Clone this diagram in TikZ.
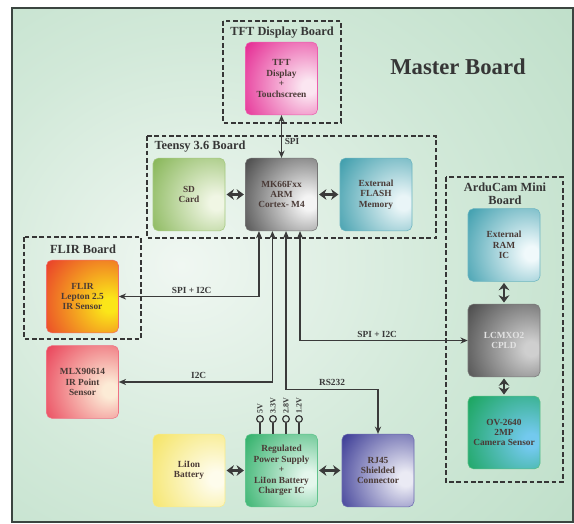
\documentclass[tikz,border=0pt]{standalone}
\usepackage{fontspec}
\setmainfont{Liberation Serif}
\usetikzlibrary{arrows.meta}

\definecolor{bgin}{HTML}{F0F7F2}
\definecolor{bgmid}{HTML}{D2E9D9}
\definecolor{bgout}{HTML}{A6D2B5}
\definecolor{framec}{HTML}{3B4540}
\definecolor{wirec}{HTML}{3A3A3A}
\definecolor{txtc}{HTML}{4A3A36}
\definecolor{lblc}{HTML}{363636}

\definecolor{tftd}{HTML}{E3188A}
\definecolor{tftl}{HTML}{FBE6F1}
\definecolor{sdd}{HTML}{7DB04A}
\definecolor{sdl}{HTML}{F0F6E4}
\definecolor{mcud}{HTML}{3A3A3A}
\definecolor{mcul}{HTML}{F4F4F4}
\definecolor{flashd}{HTML}{2C94A4}
\definecolor{flashl}{HTML}{E9F5F7}
\definecolor{flird}{HTML}{E8302C}
\definecolor{flirl}{HTML}{FBE619}
\definecolor{mlxd}{HTML}{E8344E}
\definecolor{mlxl}{HTML}{FCEBD6}
\definecolor{ramd}{HTML}{2E96A7}
\definecolor{raml}{HTML}{F0F9FB}
\definecolor{cpldd}{HTML}{3F3F3F}
\definecolor{cpldl}{HTML}{CFCFCF}
\definecolor{cpldtxt}{HTML}{E2E2E2}
\definecolor{camd}{HTML}{12A24F}
\definecolor{caml}{HTML}{73C9EE}
\definecolor{batd}{HTML}{F4E258}
\definecolor{batl}{HTML}{FEFCEC}
\definecolor{psud}{HTML}{1FAA5D}
\definecolor{psul}{HTML}{E4F6EC}
\definecolor{rjd}{HTML}{2A2A8C}
\definecolor{rjl}{HTML}{EAEAF4}

\colorlet{blkdark}{black}
\colorlet{blklight}{white}
\pgfdeclareradialshading{bgglow}{\pgfpoint{-10bp}{0bp}}{color(0bp)=(bgin); color(22bp)=(bgmid); color(65bp)=(bgout); color(100bp)=(bgout)}
\pgfdeclareradialshading[blkdark,blklight]{blkglow}{\pgfpoint{20bp}{-6bp}}{color(0bp)=(blklight); color(5bp)=(blklight); color(50bp)=(blkdark); color(110bp)=(blkdark)}

\begin{document}
\begin{tikzpicture}[x=0.75pt, y=-0.75pt, >={Stealth[length=5.5pt,width=4.6pt]},
	blk/.style 2 args={shade, shading=blkglow, /utils/exec={\colorlet{blkdark}{#1}\colorlet{blklight}{#2}},
		draw=#1!70!white, line width=0.4pt, rounded corners=4pt, minimum width=54pt, minimum height=54.5pt,
		inner sep=1pt, align=center, text=txtc, font=\bfseries\fontsize{7}{7.8}\selectfont},
	brd/.style={draw=lblc, line width=1.1pt, dash pattern=on 3.5pt off 2pt},
	brdlbl/.style={text=lblc, align=center, inner sep=0pt, font=\bfseries\fontsize{9.3}{10}\selectfont},
	wire/.style={<->, draw=wirec, line width=0.9pt},
	bus/.style={>={Stealth[length=5.5pt,width=8pt]}, <->, draw=wirec, line width=2pt, shorten <=1pt, shorten >=1pt},
	lbl/.style={text=wirec, inner sep=2pt, font=\bfseries\fontsize{7}{8}\selectfont},
	pin/.style={circle, draw=wirec, line width=0.9pt, minimum size=5pt, inner sep=0pt},
	pinlbl/.style={rotate=90, anchor=west, inner sep=1pt, text=wirec, font=\bfseries\fontsize{6}{6}\selectfont}]
		\useasboundingbox (0,0) rectangle (574,524);
		\shade[shading=bgglow] (12,8) rectangle (573,522);
		\draw[framec, line width=1.2pt] (12,8) rectangle (573,522);

		\node[text=lblc, font=\bfseries\fontsize{17}{17}\selectfont] (master) at (458,67) {Master Board};

		% sub boards
		\draw[brd] (223,21) rectangle (341,123);
		\draw[brd] (147,136) rectangle (436,238);
		\draw[brd] (24,237) rectangle (141,339);
		\draw[brd] (446,177) rectangle (563,482);
		\node[brdlbl] (tftboard) at (282,33) {TFT Display Board};
		\node[brdlbl] (teensyboard) at (200,147) {Teensy 3.6 Board};
		\node[brdlbl] (flirboard) at (83,249) {FLIR Board};
		\node[brdlbl] (camboard) at (505,193.5) {ArduCam Mini\\Board};

		\node[blk={tftd}{tftl}] (tft) at (281.5,78.5) {TFT\\Display\\+\\Touchscreen};
		\node[blk={sdd}{sdl}] (sd) at (189,194.5) {SD\\Card};
		\node[blk={mcud}{mcul}] (mcu) at (281.5,194.5) {MK66Fxx\\ARM\\Cortex- M4};
		\node[blk={flashd}{flashl}] (flash) at (376,194.5) {External\\FLASH\\Memory};
		\node[blk={flird}{flirl}] (flir) at (82.5,296.5) {FLIR\\Lepton 2.5\\IR Sensor};
		\node[blk={mlxd}{mlxl}] (mlx) at (82.5,382) {MLX90614\\IR Point\\Sensor};
		\node[blk={ramd}{raml}] (ram) at (504,245) {External\\RAM\\IC};
		\node[blk={cpldd}{cpldl}, text=cpldtxt] (cpld) at (504,340.5) {LCMXO2\\CPLD};
		\node[blk={camd}{caml}] (cam) at (504,432.5) {OV-2640\\2MP\\Camera Sensor};
		\node[blk={batd}{batl}] (bat) at (189,470.5) {LiIon\\Battery};
		\node[blk={psud}{psul}] (psu) at (281.5,470.5) {Regulated\\Power Supply\\+\\LiIon Battery\\Charger IC};
		\node[blk={rjd}{rjl}] (rj) at (378,470.5) {RJ45\\Shielded\\Connector};

		\draw[bus] (sd) -- (mcu);
		\draw[bus] (mcu) -- (flash);
		\draw[bus] (ram) -- (cpld);
		\draw[bus] (cpld) -- (cam);
		\draw[bus] (bat) -- (psu);
		\draw[bus] (psu) -- (rj);

		\draw[wire] (tft) -- (mcu) node[lbl, pos=0.62, right] (spi) {SPI};
		\draw[wire] ([xshift=-16.9pt]mcu.south) |- (flir.east) node[lbl, pos=0.74, above] (flirbus) {SPI + I2C};
		\draw[wire] ([xshift=-6.8pt]mcu.south) |- (mlx.east) node[lbl, pos=0.74, above] (mlxbus) {I2C};
		\draw[wire] ([xshift=3.4pt]mcu.south) -- ++(0,158) -| node[lbl, pos=0.25, above] (rsbus) {RS232} (rj.north);
		\draw[wire] ([xshift=13.9pt]mcu.south) |- (cpld.west) node[lbl, pos=0.73, above] (cambus) {SPI + I2C};

		% supply rails
		\foreach \i/\vx/\vl in {1/260/5V,2/273/3.3V,3/286/2.8V,4/299/1.2V}{
			\node[pin] (pin\i) at (\vx,419) {};
			\draw[wirec, line width=0.9pt] (pin\i) -- (pin\i |- psu.north);
			\node[pinlbl] (rail\i) at (pin\i.north) {\vl};
		}
	\end{tikzpicture}
\end{document}
